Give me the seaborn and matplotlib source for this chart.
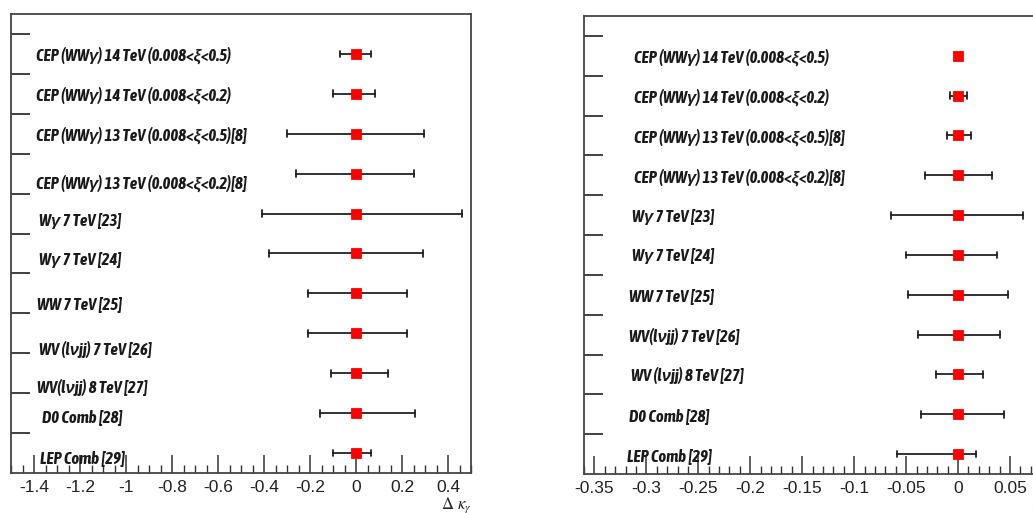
import numpy as np
import pandas as pd
import matplotlib
matplotlib.use("Agg")
import matplotlib.pyplot as plt
import matplotlib.transforms as mtransforms
from matplotlib import font_manager
from matplotlib.ticker import MultipleLocator, FuncFormatter
import seaborn as sns

# ── Data ──────────────────────────────────────────────────────────────────────
LABELS_KAPPA = [
    "CEP (WWγ) 14 TeV (0.008<ξ<0.5)",
    "CEP (WWγ) 14 TeV (0.008<ξ<0.2)",
    "CEP (WWγ) 13 TeV (0.008<ξ<0.5)[8]",
    "CEP (WWγ) 13 TeV (0.008<ξ<0.2)[8]",
    "Wγ 7 TeV [23]",
    "Wγ 7 TeV [24]",
    "WW 7 TeV [25]",
    "WV (lνjj) 7 TeV [26]",
    "WV(lνjj) 8 TeV [27]",
    "D0 Comb [28]",
    "LEP Comb [29]",
]
LABELS_LAMBDA = [
    "CEP (WWγ) 14 TeV (0.008<ξ<0.5)",
    "CEP (WWγ) 14 TeV (0.008<ξ<0.2)",
    "CEP (WWγ) 13 TeV (0.008<ξ<0.5)[8]",
    "CEP (WWγ) 13 TeV (0.008<ξ<0.2)[8]",
    "Wγ 7 TeV [23]",
    "Wγ 7 TeV [24]",
    "WW 7 TeV [25]",
    "WV(lνjj) 7 TeV [26]",
    "WV (lνjj) 8 TeV [27]",
    "D0 Comb [28]",
    "LEP Comb [29]",
]
CENTER    = [0, 0, 0, 0, 0, 0, 0, 0, 0, 0, 0]
KAPPA_LO  = [-0.07, -0.10, -0.30, -0.26, -0.41, -0.38, -0.21, -0.21, -0.11, -0.158, -0.099]
KAPPA_HI  = [0.065, 0.083, 0.296, 0.25, 0.46, 0.29, 0.22, 0.22, 0.14, 0.255, 0.066]
LAMBDA_LO = [-0.003, -0.008, -0.011, -0.032, -0.065, -0.050, -0.048, -0.039, -0.021, -0.036, -0.059]
LAMBDA_HI = [0.003, 0.009, 0.012, 0.033, 0.062, 0.037, 0.048, 0.040, 0.024, 0.044, 0.017]

# ── Layout (label placement, axes fraction / category units) ──────────────────
KAPPA_LABEL_X  = [0.054, 0.054, 0.054, 0.054, 0.061, 0.061, 0.057, 0.061, 0.057, 0.067, 0.063]
KAPPA_LABEL_DY = [0.0, 0.0, 0.0, 0.2, 0.15, 0.12, 0.22, 0.37, 0.32, 0.05, 0.08]
LAMBDA_LABEL_X = [0.104, 0.104, 0.104, 0.104, 0.100, 0.100, 0.094, 0.094, 0.098, 0.094, 0.090]

sns.set_style("ticks")

# look for a narrow / condensed face for the ROOT-like labels
narrow = None
for f in font_manager.fontManager.ttflist:
    tag = (f.name + " " + f.fname).lower()
    if ("narrow" in tag or "condensed" in tag) and "mono" not in tag and "serif" not in tag:
        narrow = f
        if f.style == "italic" and f.weight in ("bold", 700):
            break
if narrow is not None:
    LABEL_FONT = [narrow.name, "Liberation Sans", "DejaVu Sans"]
    LABEL_STRETCH = narrow.stretch
    LABEL_SIZE = 12
else:
    LABEL_FONT = ["Liberation Sans", "DejaVu Sans"]
    LABEL_STRETCH = "normal"
    LABEL_SIZE = 9.6

plt.rcParams["font.family"] = ["Liberation Sans", "DejaVu Sans"]
plt.rcParams["axes.unicode_minus"] = False
plt.rcParams["mathtext.fontset"] = "stix"


def long_table(labels, lo, center, hi):
    rows = []
    for lab, a, c, b in zip(labels, lo, center, hi):
        rows += [(lab, a), (lab, c), (lab, b)]
    return pd.DataFrame(rows, columns=["label", "value"])


def draw_panel(ax, labels, lo, hi, label_x, label_dy, xlim, major, minor, xlabel):
    df = long_table(labels, lo, CENTER, hi)
    sns.pointplot(data=df, x="value", y="label", order=labels,
                  estimator="median", errorbar=("pi", 100),
                  color="red", marker="s", markersize=5.5, linestyle="none",
                  capsize=0.17, zorder=3,
                  err_kws={"color": "#222222", "linewidth": 1.3, "zorder": 2},
                  ax=ax)
    ax.set_xlim(*xlim)
    ax.set_ylim(len(labels) - 0.5, -1.0)
    ax.set_ylabel("")
    ax.set_yticks(np.arange(len(labels)) - 0.5)
    ax.set_yticklabels([])
    ax.tick_params(axis="y", direction="in", length=14, width=1.3, color="#333333")
    ax.xaxis.set_major_locator(MultipleLocator(major))
    ax.xaxis.set_minor_locator(MultipleLocator(minor))
    ax.xaxis.set_major_formatter(FuncFormatter(lambda v, p: f"{round(v, 4):g}"))
    ax.tick_params(axis="x", which="major", direction="in", length=13, width=1.1,
                   color="#333333", labelsize=12.5, labelcolor="#222222", pad=5)
    ax.tick_params(axis="x", which="minor", direction="in", length=6, width=1.0,
                   color="#333333")
    for s in ax.spines.values():
        s.set_visible(True)
        s.set_linewidth(1.3)
        s.set_color("#444444")
    ax.set_xlabel(xlabel, loc="right", fontsize=12, labelpad=0, color="#222222")

    trans = mtransforms.blended_transform_factory(ax.transAxes, ax.transData)
    for i, lab in enumerate(labels):
        ax.text(label_x[i], i + label_dy[i], lab, transform=trans,
                ha="left", va="center_baseline", fontsize=LABEL_SIZE,
                fontweight="bold", fontstyle="italic", fontstretch=LABEL_STRETCH,
                family=LABEL_FONT, color="#1a1a1a")


fig = plt.figure(figsize=(10.33, 5.13), dpi=100)
ax1 = fig.add_axes([11 / 1033, 1 - 473 / 513, 460 / 1033, 459 / 513])
ax2 = fig.add_axes([584 / 1033, 1 - 474 / 513, 478 / 1033, 458 / 513])

draw_panel(ax1, LABELS_KAPPA, KAPPA_LO, KAPPA_HI, KAPPA_LABEL_X, KAPPA_LABEL_DY,
           (-1.5, 0.5), 0.2, 0.05, r"$\Delta\ \kappa_{\gamma}$")
draw_panel(ax2, LABELS_LAMBDA, LAMBDA_LO, LAMBDA_HI, LAMBDA_LABEL_X,
           [0.0] * len(LABELS_LAMBDA),
           (-0.36, 0.1), 0.05, 0.01, r"$\Delta\ \lambda_{\gamma}$")

fig.savefig("out.png", dpi=100)
